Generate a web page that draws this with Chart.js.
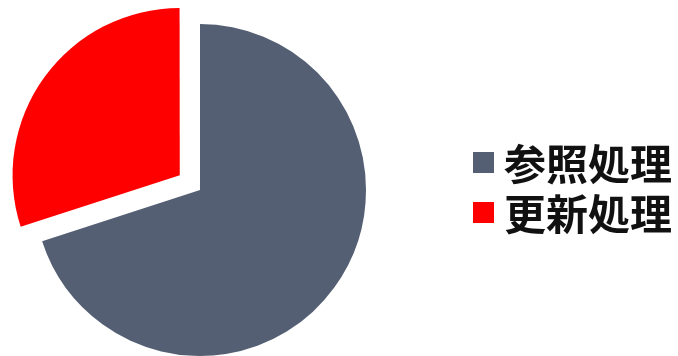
<!DOCTYPE html>
<html>
<head>
<meta charset="utf-8">
<script src="https://cdn.jsdelivr.net/npm/chart.js@4/dist/chart.umd.min.js"></script>
<style>
  html, body { margin: 0; padding: 0; background: #fff; overflow: hidden; width: 678px; height: 356px; }
  /* canvas is larger than the window so the big slice offset does not shrink the pie */
  #wrap { position: absolute; left: -20px; top: -30px; width: 698px; height: 440px; }
  #legend {
    position: absolute; left: 473px; top: 137px;
    font-family: "Noto Sans CJK JP", "Noto Sans", sans-serif;
    font-weight: bold; font-size: 42px; line-height: 50px; color: #111;
  }
  #legend .item { display: flex; align-items: center; height: 50px; white-space: nowrap; }
  #legend .box { width: 21px; height: 21px; margin-right: 10px; flex: none; }
</style>
</head>
<body>
<div id="wrap">
  <canvas id="pie"></canvas>
</div>
<div id="legend"></div>
<script>
// data
const categories = ['参照処理', '更新処理']
const shares = [70, 30]
const sliceColors = ['#555f73', '#ff0000']
// arc offset is divided by 4 when drawn, so 100 -> ~25px
const sliceOffsets = [0, 100]

const chart = new Chart(document.getElementById('pie'), {
  type: 'pie',
  data: {
    labels: categories,
    datasets: [{
      data: shares,
      backgroundColor: sliceColors,
      borderWidth: 0,
      offset: sliceOffsets,
    }],
  },
  options: {
    responsive: true,
    maintainAspectRatio: false,
    animation: false,
    layout: { padding: { left: 0, right: 258, top: 4, bottom: 4 } },
    plugins: {
      legend: { display: false },
      tooltip: { enabled: false },
    },
  },
})

// html legend built from the chart data
const legendEl = document.getElementById('legend')
chart.data.labels.forEach((label, i) => {
  const row = document.createElement('div')
  row.className = 'item'
  const box = document.createElement('span')
  box.className = 'box'
  box.style.background = chart.data.datasets[0].backgroundColor[i]
  const text = document.createElement('span')
  text.textContent = label
  row.appendChild(box)
  row.appendChild(text)
  legendEl.appendChild(row)
})
</script>
</body>
</html>
